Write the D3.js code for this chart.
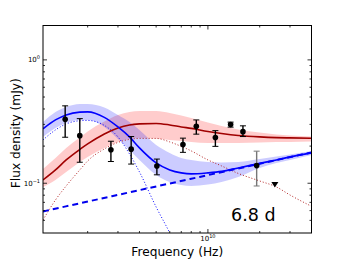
<!DOCTYPE html>
<html><head><meta charset="utf-8">
<script src="https://cdn.jsdelivr.net/npm/d3@7"></script>
<style>body{margin:0;background:#fff}svg{display:block;font-family:"DejaVu Sans",sans-serif}</style>
</head><body><svg id="c" width="346" height="260"></svg>
<script>
// ---- model curves (frequency in Hz, flux density in mJy) ----
const freqGrid = [1.1e9,1.3e9,1.5e9,1.8e9,2e9,2.5e9,3e9,3.5e9,4e9,5e9,6e9,7e9,8e9,1e10,1.2e10,1.5e10,2e10,2.5e10,3e10,4e10];
const blueTotal = [0.276,0.326,0.358,0.377,0.379,0.342,0.286,0.2374,0.1933,0.1462,0.1282,0.1213,0.1190,0.1213,0.1247,0.1331,0.1448,0.1545,0.1635,0.1762];
const blueUpper = [0.3140,0.3788,0.4157,0.4396,0.4396,0.4118,0.358,0.314,0.2706,0.2045,0.1762,0.1604,0.1545,0.1488,0.1475,0.1488,0.1574,0.1650,0.1713,0.1828];
const blueLower = [0.2374,0.2808,0.3083,0.326,0.326,0.2861,0.2287,0.1862,0.1545,0.1168,0.1024,0.0969,0.0951,0.0978,0.1024,0.1125,0.1331,0.1462,0.1545,0.1697];
const blueDottedFreq = [1.1e9,1.3e9,1.5e9,1.8e9,2e9,2.5e9,3e9,3.5e9,4e9,5e9,6e9,7e9];
const blueDotted = [0.2245,0.2706,0.3026,0.3212,0.3230,0.2942,0.2374,0.1729,0.1235,0.0642,0.0395,0.0248];
const blueDashedFreq = [1.1e9,1e10,4e10];
const blueDashed = [0.0591,0.1164,0.1777];
const redTotal = [0.1063,0.1282,0.1545,0.1880,0.2084,0.2511,0.2809,0.297,0.3026,0.3054,0.297,0.2861,0.2783,0.2631,0.2534,0.2441,0.2374,0.2343,0.2331,0.2318];
const redUpper = [0.1306,0.1604,0.1933,0.2352,0.2631,0.3170,0.358,0.3788,0.3857,0.3857,0.3717,0.3547,0.3385,0.3111,0.2915,0.2731,0.2583,0.2487,0.2441,0.2396];
const redLower = [0.0933,0.1063,0.1235,0.1488,0.1635,0.1933,0.2163,0.2287,0.2331,0.2309,0.2245,0.2203,0.2163,0.2123,0.2123,0.2123,0.2143,0.2163,0.2163,0.2183];
const redDotted = [0.0504,0.0732,0.0951,0.1282,0.1516,0.1897,0.2143,0.2266,0.2309,0.2309,0.2163,0.1989,0.1828,0.1545,0.1382,0.1201,0.1043,0.0933,0.0803,0.0650];

// ---- observations ----
const obsFreq = [1.48e9,1.80e9,2.73e9,3.58e9,5.05e9,7.16e9,8.56e9,1.105e10,1.355e10,1.598e10,1.92e10];
const obsFlux = [0.330,0.243,0.187,0.189,0.138,0.206,0.290,0.235,0.299,0.262,0.139];
const obsLow  = [0.236,0.148,0.150,0.143,0.117,0.178,0.250,0.199,0.285,0.239,0.095];
const obsHigh = [0.424,0.334,0.219,0.239,0.157,0.232,0.326,0.267,0.313,0.292,0.182];
const ulFreq = [2.45e10];
const ulFlux = [0.0975];

// ---- axes ----
const xDomain = [1.1e9, 4e10];
const yDomain = [0.0395, 1.9];
const xMajor = [1e10];
const xMinor = [2e9,3e9,4e9,5e9,6e9,7e9,8e9,9e9,2e10,3e10];
const yMajor = [0.1, 1];
const yMinor = [0.05,0.06,0.07,0.08,0.09,0.2,0.3,0.4,0.5,0.6,0.7,0.8,0.9];
const xMajorLabel = [["10","10"]];
const yMajorLabel = [["10","\u22121"],["10","0"]];
const annotation = "6.8 d";

const L = 43, R = 311.5, T = 25.5, B = 233;
const svg = d3.select("#c");
const x = d3.scaleLog().domain(xDomain).range([L, R]);
const y = d3.scaleLog().domain(yDomain).range([B, T]);

svg.append("defs").append("clipPath").attr("id","clip")
  .append("rect").attr("x",L).attr("y",T).attr("width",R-L).attr("height",B-T);
const g = svg.append("g").attr("clip-path","url(#clip)");

const band = (lo, hi) => d3.area().x((d,i)=>x(freqGrid[i])).y0((d,i)=>y(lo[i])).y1((d,i)=>y(hi[i])).curve(d3.curveMonotoneX)(lo);
const line = (fr, v) => d3.line().x((d,i)=>x(fr[i])).y(d=>y(d)).curve(d3.curveMonotoneX)(v);

g.append("path").attr("d", band(redLower, redUpper)).attr("fill","#ff0000").attr("fill-opacity",0.2);
g.append("path").attr("d", band(blueLower, blueUpper)).attr("fill","#0000ff").attr("fill-opacity",0.2);

g.append("path").attr("d", line(freqGrid, redDotted)).attr("fill","none").attr("stroke","#b22222").attr("stroke-width",1).attr("stroke-dasharray","1,2");
g.append("path").attr("d", line(blueDottedFreq, blueDotted)).attr("fill","none").attr("stroke","#0000ff").attr("stroke-width",1).attr("stroke-dasharray","1,2");
g.append("path").attr("d", line(blueDashedFreq, blueDashed)).attr("fill","none").attr("stroke","#0000ee").attr("stroke-width",2).attr("stroke-dasharray","6,4");
g.append("path").attr("d", line(freqGrid, redTotal)).attr("fill","none").attr("stroke","#a00000").attr("stroke-width",1.6);
g.append("path").attr("d", line(freqGrid, blueTotal)).attr("fill","none").attr("stroke","#0000ff").attr("stroke-width",1.6);

// error bars + points
obsFreq.forEach((f,i)=>{
  const col = i === obsFreq.length-1 ? "#777" : "#000";
  const cx = x(f);
  g.append("line").attr("x1",cx).attr("x2",cx).attr("y1",y(obsLow[i])).attr("y2",y(obsHigh[i])).attr("stroke",col).attr("stroke-width",1.4);
  [obsLow[i], obsHigh[i]].forEach(v=>{
    g.append("line").attr("x1",cx-3).attr("x2",cx+3).attr("y1",y(v)).attr("y2",y(v)).attr("stroke",col).attr("stroke-width",1);
  });
  g.append("circle").attr("cx",cx).attr("cy",y(obsFlux[i])).attr("r",2.8).attr("fill","#000");
});
ulFreq.forEach((f,i)=>{
  const cx = x(f), cy = y(ulFlux[i]);
  g.append("path").attr("d",`M${cx-3.5},${cy-2.5}L${cx+3.5},${cy-2.5}L${cx},${cy+3}Z`).attr("fill","#000");
});

// frame
svg.append("rect").attr("x",L).attr("y",T).attr("width",R-L).attr("height",B-T).attr("fill","none").attr("stroke","#000").attr("stroke-width",1);

// ticks (inward, all four sides)
const tk = svg.append("g").attr("stroke","#000").attr("stroke-width",0.8);
xMajor.concat(xMinor).forEach(v=>{
  const len = xMajor.includes(v) ? 4 : 2;
  const px = x(v);
  tk.append("line").attr("x1",px).attr("x2",px).attr("y1",B).attr("y2",B-len);
  tk.append("line").attr("x1",px).attr("x2",px).attr("y1",T).attr("y2",T+len);
});
yMajor.concat(yMinor).forEach(v=>{
  const len = yMajor.includes(v) ? 4 : 2;
  const py = y(v);
  tk.append("line").attr("x1",L).attr("x2",L+len).attr("y1",py).attr("y2",py);
  tk.append("line").attr("x1",R).attr("x2",R-len).attr("y1",py).attr("y2",py);
});

// tick labels
xMajor.forEach((v,i)=>{
  const t = svg.append("text").attr("x",x(v)).attr("y",241).attr("text-anchor","middle").attr("font-size",7).attr("fill","#000");
  t.append("tspan").text(xMajorLabel[i][0]);
  t.append("tspan").attr("dy",-3).attr("font-size",5).text(xMajorLabel[i][1]);
});
yMajor.forEach((v,i)=>{
  const t = svg.append("text").attr("x",40).attr("y",y(v)+2.5).attr("text-anchor","end").attr("font-size",7).attr("fill","#000");
  t.append("tspan").text(yMajorLabel[i][0]);
  t.append("tspan").attr("dy",-3).attr("font-size",5).text(yMajorLabel[i][1]);
});

// axis titles
svg.append("text").attr("x",(L+R)/2).attr("y",255.5).attr("text-anchor","middle").attr("font-size",12.2).attr("fill","#000").text("Frequency (Hz)");
svg.append("text").attr("transform",`translate(20,${(T+B)/2+4}) rotate(-90)`).attr("text-anchor","middle").attr("font-size",12.2).attr("fill","#000").text("Flux density (mJy)");

// annotation
svg.append("text").attr("x",231).attr("y",221).attr("font-size",17.5).attr("fill","#000").text(annotation);
</script></body></html>
